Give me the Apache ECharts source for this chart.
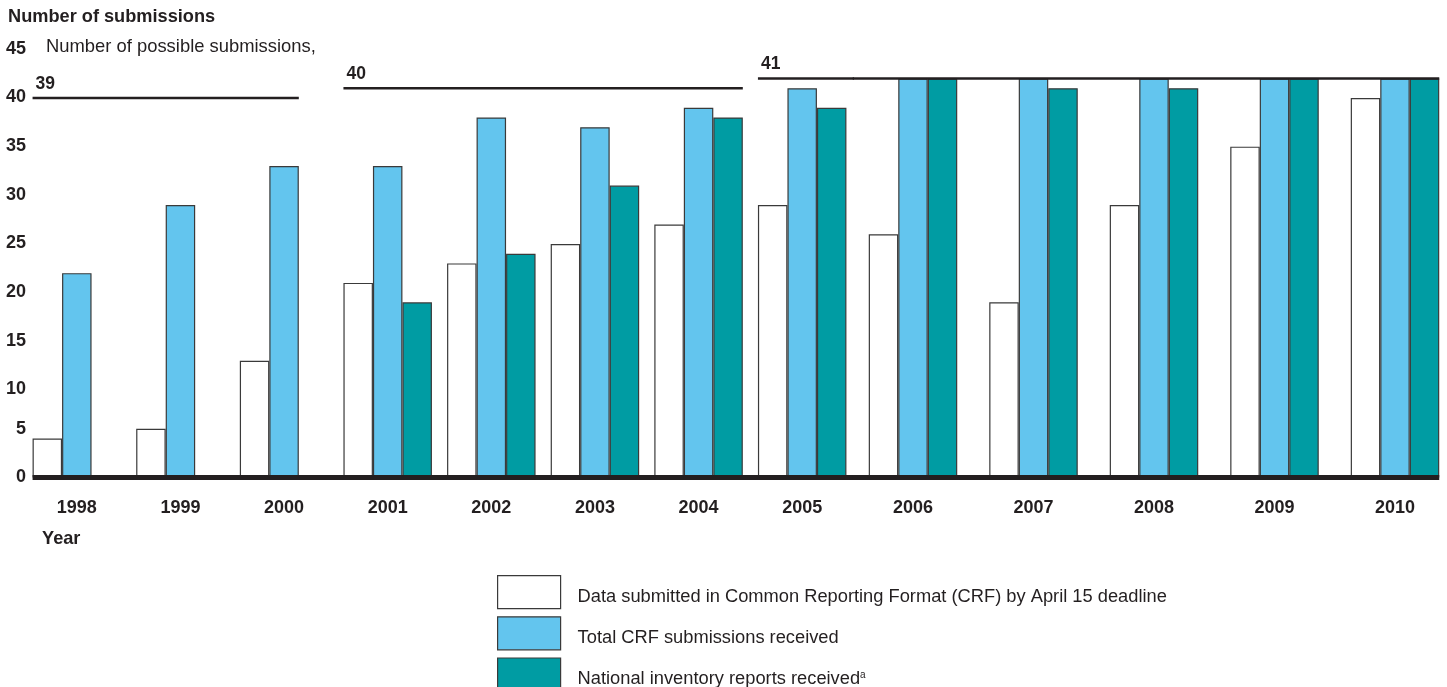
<!DOCTYPE html>
<html><head><meta charset="utf-8">
<script src="https://cdn.jsdelivr.net/npm/echarts@6/dist/echarts.min.js"></script>
<style>html,body{margin:0;padding:0;background:#fff}#c{width:1447px;height:687px}</style>
</head><body><div id="c"></div>
<script>
// ---------------- data ----------------
const years = ['1998','1999','2000','2001','2002','2003','2004','2005','2006','2007','2008','2009','2010'];
const crfByDeadline = [4, 5, 12, 20, 22, 24, 26, 28, 25, 18, 28, 34, 39];
const totalCrf      = [21, 28, 32, 32, 37, 36, 38, 40, 41, 41, 41, 41, 41];
const nirReceived   = [null, null, null, 18, 23, 30, 37, 38, 41, 40, 40, 41, 41];
const possibleFrom  = ['1998', '2001', '2005'];
const possibleTo    = ['2000', '2004', '2010'];
const possibleCount = [39, 40, 41];
const yMin = 0, yMax = 45, yStep = 5;
const seriesNames = [
  'Data submitted in Common Reporting Format (CRF) by April 15 deadline',
  'Total CRF submissions received',
  'National inventory reports received'
];
const footnoteMark = 'a';
const yTitle = 'Number of submissions';
const possibleTitle = 'Number of possible submissions,';
const xTitle = 'Year';
const splitYear = '2006'; // second panel (wider spacing) starts here

// ---------------- styles ----------------
const FONT = '"Liberation Sans", Arial, Helvetica, sans-serif';
const INK = '#231f20';
const BORDER = '#3a3a3a';
const COLORS = ['#ffffff', '#63c5ee', '#009ca3'];
const BAR_W = 29.5;

const splitIdx = years.indexOf(splitYear);
const panels = [
  {cats: years.slice(0, splitIdx), offset: 0},
  {cats: years.slice(splitIdx), offset: splitIdx}
];

// line spans clipped to a panel: [localStart, localEnd, value, contLeft, contRight, labelShown]
function spansFor(panel, froms, tos, vals) {
  const out = [];
  const n = panel.cats.length;
  for (let i = 0; i < vals.length; i++) {
    const s = years.indexOf(froms[i]) - panel.offset;
    const e = years.indexOf(tos[i]) - panel.offset;
    if (e < 0 || s > n - 1) continue;
    const cs = Math.max(s, 0), ce = Math.min(e, n - 1);
    out.push([cs, ce, vals[i], s < 0 ? 1 : 0, e > n - 1 ? 1 : 0, s >= 0 ? 1 : 0]);
  }
  return out;
}

function makeRender(panel, thick, withLabel) {
  return function (params, api) {
    const s = api.value(0), e = api.value(1), v = api.value(2);
    const contL = api.value(3), contR = api.value(4), lab = api.value(5);
    const band = api.size([1, 0])[0];
    const p1 = api.coord([s, v]);
    const p2 = api.coord([e, v]);
    const x1 = contL ? p1[0] - band / 2 : p1[0] - 1.5 * BAR_W;
    const lastHasNir = nirReceived[e + panel.offset] != null;
    const x2 = contR ? p2[0] + band / 2 : p2[0] + (lastHasNir ? 1.5 : 0.5) * BAR_W;
    const children = [{
      type: 'line',
      shape: {x1: x1, y1: p1[1], x2: x2, y2: p2[1]},
      style: {stroke: INK, lineWidth: thick}
    }];
    if (withLabel && lab) {
      children.push({
        type: 'text',
        style: {text: String(v), x: x1 + 3, y: p1[1] - 14, fill: INK,
          font: 'bold 17.5px ' + FONT, align: 'left', verticalAlign: 'middle'}
      });
    }
    return {type: 'group', children: children};
  };
}

// panel A: bands of ~103.6px; panel B: ticks at category centres, 120.5px apart
const grids = [
  {left: 25, width: 829, top: 39.6, height: 437.9},
  {left: 913, width: 482, top: 39.6, height: 437.9}
];

const xAxes = panels.map((p, i) => ({
  type: 'category', gridIndex: i, data: p.cats, boundaryGap: i === 0,
  axisLine: {show: false}, axisTick: {show: false},
  axisLabel: {color: INK, fontFamily: FONT, fontWeight: 'bold', fontSize: 18, margin: 22, interval: 0}
}));

const yAxes = panels.map((p, i) => ({
  type: 'value', gridIndex: i, min: yMin, max: yMax, interval: yStep,
  axisLine: {show: false}, axisTick: {show: false}, splitLine: {show: false},
  axisLabel: i === 0 ? {
    margin: -1,
    formatter: v => (v <= 5 ? '{n|' + v + '}' : '{d|' + v + '}'),
    rich: {
      n: {color: INK, fontFamily: FONT, fontWeight: 'bold', fontSize: 18},
      d: {color: INK, fontFamily: FONT, fontWeight: 'bold', fontSize: 18, padding: [18, 0, 0, 0]}
    }
  } : {show: false}
}));

const series = [];
const valueLists = [crfByDeadline, totalCrf, nirReceived];
panels.forEach((p, gi) => {
  valueLists.forEach((vals, si) => {
    series.push({
      name: seriesNames[si], type: 'bar', xAxisIndex: gi, yAxisIndex: gi,
      barWidth: BAR_W, barGap: '0%', clip: false,
      data: vals.slice(p.offset, p.offset + p.cats.length),
      itemStyle: {color: COLORS[si], borderColor: BORDER, borderWidth: 1.2},
      emphasis: {disabled: true}, animation: false
    });
  });
  // possible-submissions lines
  series.push({
    type: 'custom', xAxisIndex: gi, yAxisIndex: gi, silent: true, z: 5, clip: false,
    renderItem: makeRender(p, 2.6, true),
    data: spansFor(p, possibleFrom, possibleTo, possibleCount),
    encode: {x: [0, 1], y: 2}, animation: false
  });
  // baseline
  series.push({
    type: 'custom', xAxisIndex: gi, yAxisIndex: gi, silent: true, z: 6, clip: false,
    renderItem: makeRender(p, 5, false),
    data: spansFor(p, [years[0]], [years[years.length - 1]], [0]),
    encode: {x: [0, 1], y: 2}, animation: false
  });
});

const option = {
  backgroundColor: '#ffffff',
  animation: false,
  title: [
    {text: yTitle, left: 8, top: 8, padding: 0,
      textStyle: {fontFamily: FONT, fontWeight: 'bold', fontSize: 18.2, color: INK}},
    {text: possibleTitle, left: 46, top: 38, padding: 0,
      textStyle: {fontFamily: FONT, fontWeight: 'normal', fontSize: 18.4, color: INK}},
    {text: xTitle, left: 42, top: 530, padding: 0,
      textStyle: {fontFamily: FONT, fontWeight: 'bold', fontSize: 18.2, color: INK}}
  ],
  legend: {
    orient: 'vertical', left: 497, top: 575, padding: 0, height: 140,
    itemWidth: 63, itemHeight: 33, itemGap: 7, icon: 'rect',
    selectedMode: false,
    data: seriesNames,
    itemStyle: {borderColor: BORDER, borderWidth: 1.2},
    formatter: name => (name === seriesNames[2] ? name + '{sup|' + footnoteMark + '}' : name),
    textStyle: {fontFamily: FONT, fontSize: 18.3, color: INK, padding: [9, 0, 0, 12],
      rich: {sup: {fontFamily: FONT, fontSize: 10, color: INK, verticalAlign: 'top', padding: [0, 0, 8, 0]}}}
  },
  grid: grids,
  xAxis: xAxes,
  yAxis: yAxes,
  series: series
};

const chart = echarts.init(document.getElementById('c'), null, {renderer: 'canvas'});
chart.setOption(option);
</script>
</body></html>
